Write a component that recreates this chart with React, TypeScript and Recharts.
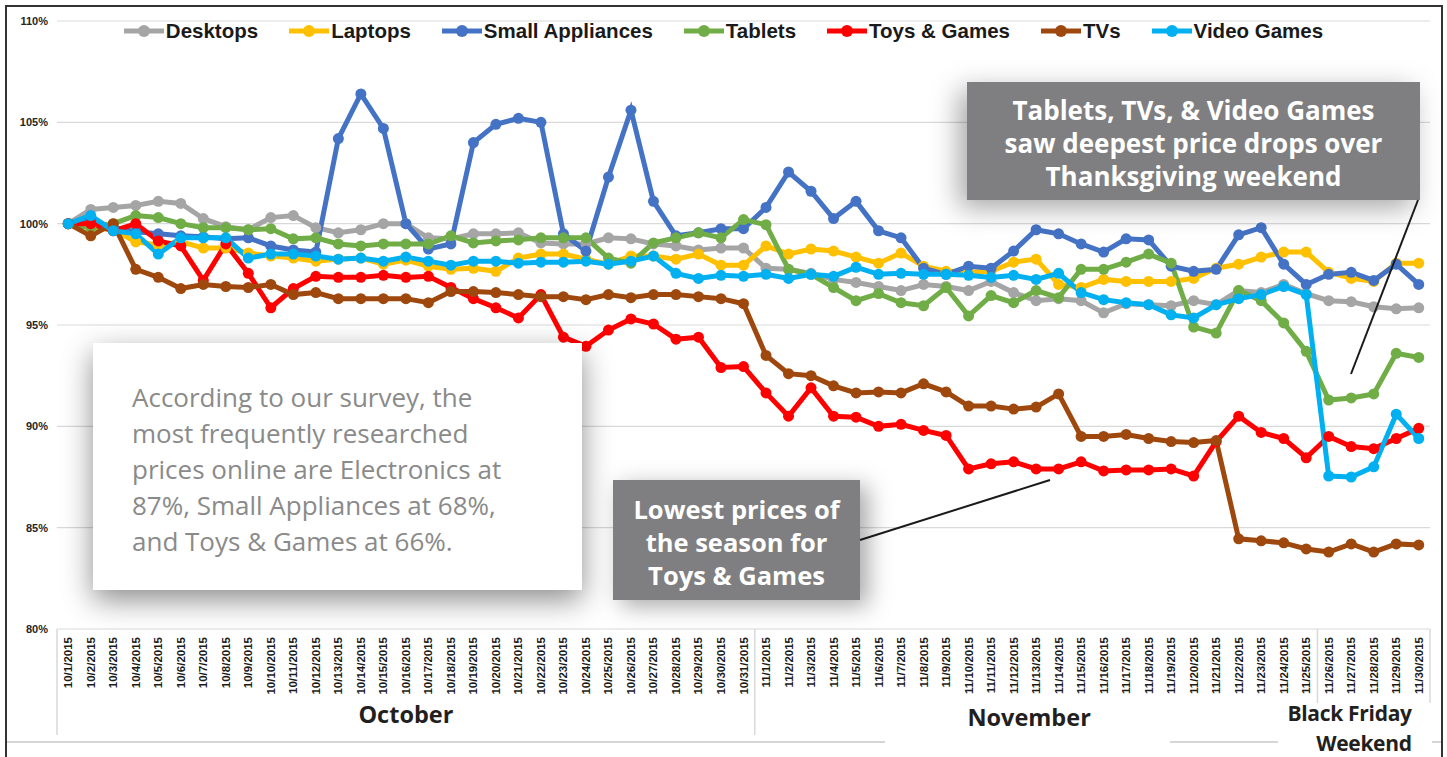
import React from 'react';
import { LineChart, Line, XAxis, YAxis, CartesianGrid, Legend } from 'recharts';

const dates = [
  '10/1/2015','10/2/2015','10/3/2015','10/4/2015','10/5/2015','10/6/2015','10/7/2015','10/8/2015','10/9/2015','10/10/2015',
  '10/11/2015','10/12/2015','10/13/2015','10/14/2015','10/15/2015','10/16/2015','10/17/2015','10/18/2015','10/19/2015','10/20/2015',
  '10/21/2015','10/22/2015','10/23/2015','10/24/2015','10/25/2015','10/26/2015','10/27/2015','10/28/2015','10/29/2015','10/30/2015',
  '10/31/2015','11/1/2015','11/2/2015','11/3/2015','11/4/2015','11/5/2015','11/6/2015','11/7/2015','11/8/2015','11/9/2015',
  '11/10/2015','11/11/2015','11/12/2015','11/13/2015','11/14/2015','11/15/2015','11/16/2015','11/17/2015','11/18/2015','11/19/2015',
  '11/20/2015','11/21/2015','11/22/2015','11/23/2015','11/24/2015','11/25/2015','11/26/2015','11/27/2015','11/28/2015','11/29/2015',
  '11/30/2015'
];

const desktops = [
  100, 100.7, 100.8, 100.9, 101.1, 101.0, 100.25, 99.85, 99.7, 100.3,
  100.4, 99.8, 99.55, 99.7, 100.0, 100.0, 99.3, 99.25, 99.5, 99.5,
  99.55, 99.05, 99.0, 99.0, 99.3, 99.25, 99.0, 98.9, 98.7, 98.8,
  98.8, 97.8, 97.75, 97.55, 97.25, 97.1, 96.9, 96.7, 97.0, 96.9,
  96.7, 97.15, 96.6, 96.2, 96.3, 96.2, 95.6, 96.05, 96.0, 95.95,
  96.2, 96.0, 96.7, 96.6, 97.0, 96.55, 96.2, 96.15, 95.9, 95.8,
  95.85
];

const laptops = [
  100, 99.8, 99.7, 99.1, 98.95, 99.1, 98.8, 98.8, 98.55, 98.4,
  98.3, 98.15, 98.25, 98.3, 98.0, 98.2, 97.9, 97.75, 97.8, 97.65,
  98.3, 98.5, 98.5, 98.25, 98.0, 98.4, 98.4, 98.25, 98.5, 97.95,
  97.95, 98.9, 98.5, 98.75, 98.65, 98.35, 98.05, 98.55, 97.9, 97.65,
  97.6, 97.65, 98.1, 98.25, 97.0, 96.85, 97.25, 97.15, 97.15, 97.15,
  97.3, 97.8, 98.0, 98.35, 98.6, 98.6, 97.6, 97.3, 97.15, 98.05,
  98.05
];

const smallAppliances = [
  100, 100.2, 99.8, 99.6, 99.5, 99.4, 99.35, 99.25, 99.3, 98.9,
  98.7, 98.6, 104.2, 106.4, 104.7, 100.0, 98.75, 99.0, 104.0, 104.9,
  105.2, 105.0, 99.5, 98.65, 102.3, 105.6, 101.1, 99.4, 99.55, 99.75,
  99.75, 100.8, 102.55, 101.6, 100.25, 101.1, 99.65, 99.3, 97.8, 97.5,
  97.9, 97.8, 98.65, 99.7, 99.5, 99.0, 98.6, 99.25, 99.2, 97.9,
  97.65, 97.75, 99.45, 99.8, 98.0, 97.0, 97.5, 97.6, 97.2, 98.0,
  97.0
];

const tablets = [
  100, 99.8, 100.0, 100.4, 100.3, 100.0, 99.8, 99.8, 99.7, 99.75,
  99.25, 99.3, 99.0, 98.9, 99.0, 99.0, 99.0, 99.4, 99.05, 99.15,
  99.2, 99.3, 99.3, 99.3, 98.3, 98.05, 99.05, 99.3, 99.55, 99.3,
  100.2, 99.95, 97.75, 97.5, 96.85, 96.2, 96.55, 96.1, 95.95, 96.85,
  95.45, 96.45, 96.1, 96.7, 96.35, 97.75, 97.75, 98.1, 98.5, 98.05,
  94.9, 94.6, 96.7, 96.2, 95.1, 93.7, 91.3, 91.4, 91.6, 93.6,
  93.4
];

const toysGames = [
  100, 100.0, 99.65, 100.0, 99.15, 98.9, 97.2, 99.0, 97.55, 95.85,
  96.8, 97.4, 97.35, 97.35, 97.45, 97.35, 97.4, 96.85, 96.3, 95.85,
  95.35, 96.5, 94.4, 93.95, 94.75, 95.3, 95.05, 94.3, 94.4, 92.9,
  92.95, 91.65, 90.5, 91.9, 90.5, 90.45, 90.0, 90.1, 89.8, 89.55,
  87.9, 88.15, 88.25, 87.9, 87.9, 88.25, 87.8, 87.85, 87.85, 87.9,
  87.55, 89.25, 90.5, 89.7, 89.4, 88.45, 89.5, 89.0, 88.9, 89.4,
  89.9
];

const tvs = [
  100, 99.4, 100.0, 97.75, 97.35, 96.8, 97.0, 96.9, 96.85, 97.0,
  96.5, 96.6, 96.3, 96.3, 96.3, 96.3, 96.1, 96.65, 96.65, 96.6,
  96.5, 96.4, 96.4, 96.25, 96.5, 96.35, 96.5, 96.5, 96.4, 96.3,
  96.05, 93.5, 92.6, 92.5, 92.0, 91.65, 91.7, 91.65, 92.1, 91.7,
  91.0, 91.0, 90.85, 90.95, 91.6, 89.5, 89.5, 89.6, 89.4, 89.25,
  89.2, 89.3, 84.45, 84.35, 84.25, 83.95, 83.8, 84.2, 83.8, 84.2,
  84.15
];

const videoGames = [
  100, 100.4, 99.65, 99.5, 98.5, 99.3, 99.3, 99.3, 98.3, 98.5,
  98.5, 98.4, 98.25, 98.3, 98.15, 98.35, 98.15, 97.95, 98.15, 98.15,
  98.05, 98.1, 98.1, 98.15, 98.0, 98.15, 98.4, 97.55, 97.3, 97.45,
  97.4, 97.5, 97.3, 97.5, 97.4, 97.85, 97.5, 97.55, 97.5, 97.5,
  97.45, 97.35, 97.45, 97.25, 97.55, 96.6, 96.25, 96.1, 96.0, 95.5,
  95.35, 96.0, 96.3, 96.5, 96.9, 96.5, 87.55, 87.5, 88.0, 90.6,
  89.4
];

const yTicks = [80, 85, 90, 95, 100, 105, 110];

const series = [
  { key: 'Desktops', values: desktops, color: '#A5A5A5' },
  { key: 'Laptops', values: laptops, color: '#FFC000' },
  { key: 'Small Appliances', values: smallAppliances, color: '#4472C4' },
  { key: 'Tablets', values: tablets, color: '#70AD47' },
  { key: 'Toys & Games', values: toysGames, color: '#FF0000' },
  { key: 'TVs', values: tvs, color: '#9E480E' },
  { key: 'Video Games', values: videoGames, color: '#00B0F0' },
];

const data = dates.map((d, i) => {
  const row: Record<string, any> = { date: d };
  series.forEach((s) => { row[s.key] = s.values[i]; });
  return row;
});

const W = 1447;
const H = 757;
const MARGIN = { top: 21, right: 17, bottom: 18, left: 7 };
const YAXIS_W = 50;
const PLOT_W = W - MARGIN.left - MARGIN.right - YAXIS_W;
const BAND = PLOT_W / dates.length;
const PLOT_BOTTOM = 629;

const groupFont = "'Open Sans', 'DejaVu Sans', sans-serif";

const DateTick = (props: any) => {
  const { x, y, payload, index } = props;
  const half = BAND / 2;
  const sepColor = '#D9D9D9';
  return (
    <g>
      <text
        x={x}
        y={y}
        dy="0.35em"
        transform={`rotate(-90, ${x}, ${y})`}
        textAnchor="end"
        fontFamily="'Liberation Sans', Arial, sans-serif"
        fontWeight={700}
        fontSize={11.5}
        fill="#1a1a1a"
      >
        {payload.value}
      </text>
      {index === 0 && <line x1={x - half} x2={x - half} y1={PLOT_BOTTOM} y2={735} stroke={sepColor} strokeWidth={1.5} />}
      {index === 31 && <line x1={x - half} x2={x - half} y1={PLOT_BOTTOM} y2={735} stroke={sepColor} strokeWidth={1.5} />}
      {index === 56 && <line x1={x - half} x2={x - half} y1={PLOT_BOTTOM} y2={703} stroke={sepColor} strokeWidth={1.5} />}
      {index === 60 && <line x1={x + half} x2={x + half} y1={PLOT_BOTTOM} y2={703} stroke={sepColor} strokeWidth={1.5} />}
      {index === 15 && (
        <text x={x} y={715} dy="0.35em" textAnchor="middle" fontFamily={groupFont} fontWeight={700} fontSize={23.5} fill="#231f20">October</text>
      )}
      {index === 43 && (
        <text x={x - 7} y={718} dy="0.35em" textAnchor="middle" fontFamily={groupFont} fontWeight={700} fontSize={23.5} fill="#231f20">November</text>
      )}
      {index === 58 && (
        <g>
          <rect x={x - 95} y={735} width={150} height={30} fill="#ffffff" />
          <text textAnchor="end" fontFamily={groupFont} fontWeight={700} fontSize={21} letterSpacing={-0.3} fill="#231f20">
            <tspan x={x + 38} y={714} dy="0.35em">Black Friday</tspan>
            <tspan x={x + 38} y={743.5} dy="0.35em">Weekend</tspan>
          </text>
        </g>
      )}
    </g>
  );
};

const LegendContent = () => (
  <div
    style={{
      display: 'flex',
      justifyContent: 'center',
      alignItems: 'center',
      gap: 31,
      fontFamily: "'Liberation Sans', Arial, sans-serif",
      fontWeight: 700,
      fontSize: 20.5,
      color: '#1a1a1a',
      whiteSpace: 'nowrap',
    }}
  >
    {series.map((s) => (
      <div key={s.key} style={{ display: 'flex', alignItems: 'center' }}>
        <svg width={40} height={14} style={{ display: 'block' }}>
          <line x1={0} y1={7} x2={40} y2={7} stroke={s.color} strokeWidth={5} />
          <circle cx={20} cy={7} r={6} fill={s.color} />
        </svg>
        <span style={{ marginLeft: 2 }}>{s.key}</span>
      </div>
    ))}
  </div>
);

const boxFont = "'Open Sans', 'DejaVu Sans', sans-serif";

export default function App() {
  return (
    <div style={{ position: 'absolute', left: 0, top: 0, width: W, height: H, background: '#ffffff', overflow: 'hidden' }}>
      <LineChart width={W} height={H} data={data} margin={MARGIN}>
        <CartesianGrid vertical={false} stroke="#D9D9D9" strokeWidth={1.2} />
        <XAxis
          dataKey="date"
          interval={0}
          height={110}
          axisLine={false}
          tickLine={false}
          tickSize={0}
          tickMargin={8}
          padding={{ left: BAND / 2, right: BAND / 2 }}
          tick={<DateTick />}
        />
        <YAxis
          domain={[80, 110]}
          ticks={yTicks}
          width={YAXIS_W}
          axisLine={false}
          tickLine={false}
          tickSize={0}
          tickMargin={9}
          tickFormatter={(v: number) => `${v}%`}
          tick={{ fontFamily: "'Liberation Sans', Arial, sans-serif", fontWeight: 700, fontSize: 11, fill: '#262626' }}
        />
        <Legend
          verticalAlign="middle"
          content={<LegendContent />}
          wrapperStyle={{ top: 19, left: 0, width: W, height: 24 }}
        />
        {series.map((s) => (
          <Line
            key={s.key}
            type="linear"
            dataKey={s.key}
            stroke={s.color}
            strokeWidth={5}
            dot={{ r: 5.5, fill: s.color, stroke: s.color, strokeWidth: 0 }}
            activeDot={false}
            isAnimationActive={false}
          />
        ))}
      </LineChart>

      {/* light bottom rule */}
      <div style={{ position: 'absolute', left: 7, top: 741, width: 878, height: 2, background: '#D6D6D6' }} />
      <div style={{ position: 'absolute', left: 1170, top: 741, width: 108, height: 2, background: '#D6D6D6' }} />
      <div style={{ position: 'absolute', left: 1432, top: 741, width: 10, height: 2, background: '#D6D6D6' }} />

      {/* outer frame */}
      <div style={{ position: 'absolute', left: 5, top: 5, width: 1434, height: 800, border: '2px solid #333333', pointerEvents: 'none' }} />

      {/* survey note */}
      <div
        style={{
          position: 'absolute', left: 93, top: 343, width: 489, height: 247, boxSizing: 'border-box',
          background: '#ffffff', boxShadow: '0 10px 28px rgba(0,0,0,0.45)',
          padding: '36px 10px 0 39px', fontFamily: boxFont, fontSize: 26, lineHeight: '36px', color: '#8A8A8A',
          whiteSpace: 'nowrap',
        }}
      >
        According to our survey, the<br />most frequently researched<br />prices online are Electronics at<br />87%, Small Appliances at 68%,<br />and Toys &amp; Games at 66%.
      </div>

      {/* lowest prices callout */}
      <div
        style={{
          position: 'absolute', left: 613, top: 480, width: 247, height: 120, boxSizing: 'border-box',
          background: '#7F7F81', boxShadow: '8px 6px 22px rgba(0,0,0,0.35)',
          paddingTop: 13, textAlign: 'center', fontFamily: boxFont, fontWeight: 700, fontSize: 25.5, lineHeight: '33px', color: '#ffffff',
          whiteSpace: 'nowrap',
        }}
      >
        Lowest prices of<br />the season for<br />Toys &amp; Games
      </div>

      {/* thanksgiving callout */}
      <div
        style={{
          position: 'absolute', left: 967, top: 82, width: 453, height: 118, boxSizing: 'border-box',
          background: '#7F7F81', boxShadow: '-8px 8px 26px rgba(0,0,0,0.35)',
          paddingTop: 12, textAlign: 'center', fontFamily: boxFont, fontWeight: 700, fontSize: 26, lineHeight: '33px', color: '#ffffff',
          whiteSpace: 'nowrap',
        }}
      >
        Tablets, TVs, &amp; Video Games<br />saw deepest price drops over<br />Thanksgiving weekend
      </div>

      <svg width={W} height={H} style={{ position: 'absolute', left: 0, top: 0, pointerEvents: 'none' }}>
        <line x1={860} y1={540} x2={1050} y2={480} stroke="#1a1a1a" strokeWidth={2} />
        <line x1={1418} y1={200} x2={1351} y2={374} stroke="#1a1a1a" strokeWidth={2} />
      </svg>
    </div>
  );
}
